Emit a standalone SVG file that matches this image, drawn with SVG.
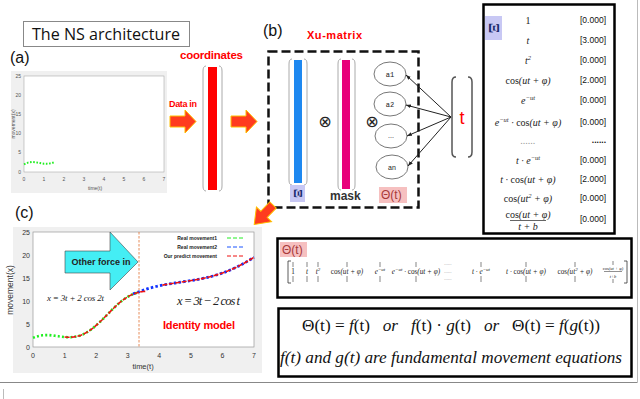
<svg xmlns="http://www.w3.org/2000/svg" width="640" height="399" viewBox="0 0 640 399">
<defs>
<style>
.lbl{font-family:"Liberation Sans",Arial,sans-serif;font-size:16px;fill:#111}
.red{font-family:"Liberation Sans",Arial,sans-serif;font-weight:bold;fill:#ff0000}
.tk{font-family:"Liberation Sans",Arial,sans-serif;font-size:5px;fill:#555}
.tkc{font-family:"Liberation Sans",Arial,sans-serif;font-size:7px;fill:#333}
.m{font-family:"Liberation Serif","Times New Roman",serif;font-style:italic;fill:#222}
.up{font-style:normal}
.n{font-family:"Liberation Sans",Arial,sans-serif;font-size:8.5px;fill:#111}
.brk{fill:none;stroke:#aaa;stroke-width:1}
.vb{stroke:#333;stroke-width:0.6}
.ell{fill:#fff;stroke:#777;stroke-width:1}
.box{fill:#fff;stroke:#000;stroke-width:2.5}
.big{fill:#ff3b1f;stroke:#ffc000;stroke-width:1}
.xi{font-family:"Liberation Serif","Times New Roman",serif;font-weight:bold;fill:#1a2a6c}
</style>
<marker id="ah" viewBox="0 0 10 10" refX="10" refY="5" markerWidth="5" markerHeight="5" orient="auto"><path d="M0,1 L10,5 L0,9 z" fill="#222"/></marker>
</defs>

<!-- outer frame remnants -->
<line x1="0" y1="382.5" x2="637.5" y2="382.5" stroke="#888" stroke-width="1"/>
<line x1="637.5" y1="0" x2="637.5" y2="382.5" stroke="#bbb" stroke-width="1"/>
<line x1="3.5" y1="389" x2="3.5" y2="399" stroke="#bbb" stroke-width="1"/>

<g id="title">
<rect x="23.5" y="21.5" width="166" height="25" fill="#fff" stroke="#888" stroke-width="1"/>
<text x="32" y="40" font-family="'Open Sans','Liberation Sans',sans-serif" font-size="16" fill="#111" textLength="148" lengthAdjust="spacingAndGlyphs">The NS architecture</text>
</g>

<g id="panel-a">
<text class="lbl" x="10" y="63">(a)</text>
<rect x="11" y="71" width="156" height="122" fill="#f0f0f0"/>
<rect x="24" y="76" width="140" height="96" fill="#fff" stroke="#aaa" stroke-width="0.6"/>
<g class="tk" text-anchor="end">
<text x="21" y="78">25</text><text x="21" y="97">20</text><text x="21" y="116">15</text><text x="21" y="135">10</text><text x="21" y="154">5</text><text x="21" y="174">0</text>
</g>
<g class="tk" text-anchor="middle">
<text x="24" y="181">0</text><text x="44" y="181">1</text><text x="64" y="181">2</text><text x="84" y="181">3</text><text x="104" y="181">4</text><text x="124" y="181">5</text><text x="144" y="181">6</text><text x="164" y="181">7</text>
<text x="95" y="190">time(t)</text>
<text transform="translate(15,124) rotate(-90)">movement(x)</text>
</g>
<polyline points="24,164.3 28,162.6 32,162 36,162.3 40,163 44,163.7 48,163.8 52,163.1 54,162.3" fill="none" stroke="#22ee22" stroke-width="2" stroke-dasharray="1.6 1.6"/>
</g>

<g id="coordinates">
<text class="red" x="180" y="59" font-size="11.5" textLength="63">coordinates</text>
<path class="brk" d="M206,66 Q203,66 203,71 L203,186 Q203,191 206,191 M219,66 Q222,66 222,71 L222,186 Q222,191 219,191"/>
<rect x="208" y="67" width="9" height="123" fill="#ff0000"/>
</g>

<g id="xu-matrix">
<text class="lbl" x="263" y="36">(b)</text>
<text class="red" x="307" y="39" font-size="11" textLength="55">Xu-matrix</text>
<rect x="268.5" y="51.5" width="150" height="156" fill="none" stroke="#111" stroke-width="2.5" stroke-dasharray="9 4"/>
<path class="brk" d="M292,59 Q289,59 289,64 L289,180 Q289,185 292,185 M304,59 Q307,59 307,64 L307,180 Q307,185 304,185"/>
<rect x="294" y="60" width="8" height="123" fill="#1e88f0"/>
<path class="brk" d="M341,59 Q338,59 338,64 L338,185 Q338,190 341,190 M352,59 Q355,59 355,64 L355,185 Q355,190 352,190"/>
<rect x="342" y="60" width="8" height="129" fill="#e8007a"/>
<text x="325" y="127" font-family="'DejaVu Sans',sans-serif" font-size="16" text-anchor="middle" fill="#222">⊗</text>
<text x="372" y="127" font-family="'DejaVu Sans',sans-serif" font-size="16" text-anchor="middle" fill="#222">⊗</text>
<ellipse class="ell" cx="390" cy="74" rx="16" ry="12"/>
<ellipse class="ell" cx="390" cy="104" rx="16" ry="12"/>
<ellipse class="ell" cx="391" cy="136" rx="16" ry="12"/>
<ellipse class="ell" cx="392" cy="167" rx="16" ry="12"/>
<g font-size="7" text-anchor="middle" fill="#222">
<text x="390" y="76.5" font-family="'Liberation Mono',monospace">a1</text>
<text x="390" y="106.5" font-family="'Liberation Mono',monospace">a2</text>
<text x="391" y="138" font-family="'Liberation Sans',sans-serif">...</text>
<text x="392" y="169.5" font-family="'Liberation Sans',sans-serif">an</text>
</g>
<rect x="290" y="185" width="15" height="17" fill="#c8c8f4"/>
<text class="xi" transform="translate(293.5,193.5) rotate(90)" font-size="13" text-anchor="middle">Ξ</text>
<text x="330" y="200" font-family="'Liberation Sans',sans-serif" font-size="12" font-weight="bold" fill="#333">mask</text>
<rect x="379" y="187" width="28" height="16" fill="#f6c0c0"/>
<text x="381" y="199" font-family="'Liberation Sans',sans-serif" font-size="12" fill="#a83a3a">Θ(t)</text>
</g>

<g id="t-input">
<path fill="none" stroke="#555" stroke-width="1.5" d="M456,77 Q452,77 452,82 L452,152 Q452,157 456,157 M468,77 Q472,77 472,82 L472,152 Q472,157 468,157"/>
<text x="462" y="124" font-family="'Liberation Sans',sans-serif" font-size="18" fill="#ff0000" text-anchor="middle">t</text>
</g>

<g id="xi-table">
<rect class="box" x="483.5" y="4.5" width="131" height="229"/>
<rect x="485" y="16" width="17" height="24" fill="#c8c8f4"/>
<text class="xi" transform="translate(489,28) rotate(90)" font-size="15" text-anchor="middle">Ξ</text>
<g class="m" font-size="10" text-anchor="middle">
<text x="528" y="23.5" class="m up">1</text>
<text x="528" y="43.5">t</text>
<text x="528" y="63.5">t<tspan font-size="6.5" dy="-4">2</tspan></text>
<text x="528" y="83.5"><tspan class="up">cos</tspan>(ut + φ)</text>
<text x="528" y="103.5">e<tspan font-size="6.5" dy="-4">−ut</tspan></text>
<text x="528" y="125.5">e<tspan font-size="6.5" dy="-4">−ut</tspan><tspan dy="4"> · </tspan><tspan class="up">cos</tspan>(ut + φ)</text>
<text x="528" y="144" fill="#999">......</text>
<text x="528" y="163.5">t · e<tspan font-size="6.5" dy="-4">−ut</tspan></text>
<text x="528" y="182.5">t · <tspan class="up">cos</tspan>(ut + φ)</text>
<text x="528" y="201.5"><tspan class="up">cos</tspan>(ut<tspan font-size="6.5" dy="-4">2</tspan><tspan dy="4"> + φ)</tspan></text>
<text x="528" y="217.5"><tspan class="up">cos</tspan>(ut + φ)</text>
<text x="528" y="230">t + b</text>
</g>
<line x1="510" y1="220.5" x2="546" y2="220.5" stroke="#222" stroke-width="0.7"/>
<g class="n" text-anchor="end">
<text x="606" y="23">[0.000]</text>
<text x="606" y="43">[3.000]</text>
<text x="606" y="63">[0.000]</text>
<text x="606" y="83">[2.000]</text>
<text x="606" y="103">[0.000]</text>
<text x="606" y="125">[0.000]</text>
<text x="606" y="143" font-weight="bold">......</text>
<text x="606" y="163">[0.000]</text>
<text x="606" y="182">[2.000]</text>
<text x="606" y="201">[0.000]</text>
<text x="606" y="222">[0.000]</text>
</g>
</g>

<g id="theta-box">
<rect class="box" x="277.5" y="238.5" width="354" height="59"/>
<rect x="280" y="242" width="27" height="15" fill="#f6c0c0"/>
<text x="282" y="254" font-family="'Liberation Sans',sans-serif" font-size="12" fill="#a83a3a">Θ(t)</text>
<path fill="none" stroke="#333" stroke-width="0.8" d="M291,261 L288,261 L288,283 L291,283 M624,261 L627,261 L627,283 L624,283"/>
<g class="vb">
<line x1="293" y1="262" x2="293" y2="267"/><line x1="293" y1="276" x2="293" y2="282"/>
<line x1="307" y1="262" x2="307" y2="267"/><line x1="307" y1="276" x2="307" y2="282"/>
<line x1="318" y1="262" x2="318" y2="267"/><line x1="318" y1="276" x2="318" y2="282"/>
<line x1="347" y1="262" x2="347" y2="267"/><line x1="347" y1="276" x2="347" y2="282"/>
<line x1="380" y1="262" x2="380" y2="267"/><line x1="380" y1="276" x2="380" y2="282"/>
<line x1="416" y1="262" x2="416" y2="267"/><line x1="416" y1="276" x2="416" y2="282"/>
<line x1="481" y1="262" x2="481" y2="267"/><line x1="481" y1="276" x2="481" y2="282"/>
<line x1="526" y1="262" x2="526" y2="267"/><line x1="526" y1="276" x2="526" y2="282"/>
<line x1="575" y1="262" x2="575" y2="267"/><line x1="575" y1="276" x2="575" y2="282"/>
<line x1="613" y1="261" x2="613" y2="265"/><line x1="613" y1="279" x2="613" y2="283"/>
</g>
<g class="m" font-size="7.2" text-anchor="middle">
<text x="293" y="273.5" class="m up">1</text>
<text x="307" y="273.5">t</text>
<text x="318" y="273.5">t<tspan font-size="5" dy="-3">2</tspan></text>
<text x="347" y="273.5"><tspan class="up">cos</tspan>(ut + φ)</text>
<text x="380" y="273.5">e<tspan font-size="5" dy="-3">−ut</tspan></text>
<text x="416" y="273.5">e<tspan font-size="5" dy="-3">−ut</tspan><tspan dy="3"> · </tspan><tspan class="up">cos</tspan>(ut + φ)</text>
<text x="448" y="265" font-size="5" fill="#888">......</text>
<text x="448" y="272.5" font-size="5" fill="#888">......</text>
<text x="448" y="280" font-size="5" fill="#888">......</text>
<text x="481" y="273.5">t · e<tspan font-size="5" dy="-3">−ut</tspan></text>
<text x="526" y="273.5">t · <tspan class="up">cos</tspan>(ut + φ)</text>
<text x="575" y="273.5"><tspan class="up">cos</tspan>(ut<tspan font-size="5" dy="-3">2</tspan><tspan dy="3"> + φ)</tspan></text>
<text x="613" y="270" font-size="4.5"><tspan class="up">cos</tspan>(ut + φ)</text>
<text x="613" y="277.5" font-size="4.5">t+b</text>
</g>
<line x1="604" y1="271.5" x2="622" y2="271.5" stroke="#222" stroke-width="0.5"/>
</g>

<g id="equation-box">
<rect class="box" x="278.5" y="308.5" width="353" height="68"/>
<text xml:space="preserve" x="302" y="331" font-family="'Liberation Serif','Times New Roman',serif" font-size="16" fill="#111" textLength="298" lengthAdjust="spacingAndGlyphs">Θ(t) = <tspan font-style="italic">f</tspan>(t)   <tspan font-style="italic">or</tspan>   <tspan font-style="italic">f</tspan>(t) · <tspan font-style="italic">g</tspan>(t)   <tspan font-style="italic">or</tspan>   Θ(t) = <tspan font-style="italic">f</tspan>(<tspan font-style="italic">g</tspan>(t))</text>
<text x="280" y="363" font-family="'Liberation Serif','Times New Roman',serif" font-style="italic" font-size="16" fill="#111" textLength="342" lengthAdjust="spacingAndGlyphs">f(t) and g(t) are fundamental movement equations</text>
</g>

<g id="panel-c">
<text class="lbl" x="15" y="218">(c)</text>
<rect x="13" y="227" width="249" height="146" fill="#f0f0f0"/>
<rect x="33" y="232" width="221" height="115" fill="#fff" stroke="#999" stroke-width="0.7"/>
<g class="tkc" text-anchor="end">
<text x="30" y="234.5">25</text><text x="30" y="257.5">20</text><text x="30" y="280.5">15</text><text x="30" y="303.5">10</text><text x="30" y="326.5">5</text><text x="30" y="349.5">0</text>
</g>
<g class="tkc" text-anchor="middle">
<text x="33" y="358">0</text><text x="64.6" y="358">1</text><text x="96.1" y="358">2</text><text x="127.7" y="358">3</text><text x="159.3" y="358">4</text><text x="190.9" y="358">5</text><text x="222.4" y="358">6</text><text x="254" y="358">7</text>
<text x="143" y="369" font-size="7.5">time(t)</text>
<text transform="translate(13,290) rotate(-90)" font-size="8.5">movement(x)</text>
</g>
<line x1="139" y1="232" x2="139" y2="347" stroke="#e07030" stroke-width="0.8" stroke-dasharray="2.5 1.5"/>
<polygon points="65,251 110,251 110,232 138,262 110,290 110,273 65,273" fill="#44eef4" stroke="#444" stroke-width="0.6"/>
<text x="101" y="265" font-family="'Liberation Sans',sans-serif" font-size="9" font-weight="bold" fill="#222" text-anchor="middle">Other force in</text>
<g font-family="'Liberation Sans',sans-serif" font-size="5" font-weight="bold" fill="#222" text-anchor="end">
<text x="217" y="240">Real movement1</text>
<text x="217" y="249">Real movement2</text>
<text x="217" y="258">Our predict movement</text>
</g>
<line x1="227" y1="238" x2="243" y2="238" stroke="#22ee22" stroke-width="1" stroke-dasharray="4 2"/>
<line x1="227" y1="247" x2="243" y2="247" stroke="#1a55ff" stroke-width="1" stroke-dasharray="4 2"/>
<line x1="227" y1="256" x2="243" y2="256" stroke="#ee1111" stroke-width="1" stroke-dasharray="4 2"/>
<polyline points="33,337.8 36.2,336.6 39.3,335.8 42.5,335.3 45.6,335.1 48.8,335.1 51.9,335.4 55.1,335.8 58.3,336.2 61.4,336.7 64.6,337 67.7,337.2 70.9,337.2 74,336.9 77.2,336.3 80.4,335.4 83.5,334.1 86.7,332.4 89.8,330.4 93,328.1 96.1,325.4 99.3,322.5 102.5,319.5 105.6,316.3 108.8,313.1 111.9,309.9 115.1,306.8 118.2,303.9 121.4,301.2 124.6,298.8 127.7,296.8 130.9,295.1 134,293.7 137.2,292.7" fill="none" stroke="#22ee22" stroke-width="2.6" stroke-dasharray="2 2.2"/>
<polyline points="133,293.8 137.2,292.4 143.5,290.1 149.8,288.1 156.1,286.5 162.4,285.1 168.8,284 175.1,283 181.4,282 187.7,281.1 194,280.1 200.3,279 206.6,277.6 212.9,276 219.3,274.1 225.6,271.9 231.9,269.3 238.2,266.3 244.5,263 250.8,259.3 254,257.3" fill="none" stroke="#1133ff" stroke-width="2.8" stroke-dasharray="2.5 2.2"/>
<polyline points="64.6,337 67.7,337.2 70.9,337.2 74,336.9 77.2,336.3 80.4,335.4 83.5,334.1 86.7,332.4 89.8,330.4 93,328.1 96.1,325.4 99.3,322.5 102.5,319.5 105.6,316.3 108.8,313.1 111.9,309.9 115.1,306.8 118.2,303.9 121.4,301.2 124.6,298.8 127.7,296.8 130.9,295.1 134,293.7 137.2,292.7 140.3,291.9 143.5,291.5 146.6,291.3" fill="none" stroke="#ee1111" stroke-width="1.6" stroke-dasharray="5 1.5"/>
<polyline points="162.4,285.1 168.8,284 175.1,283 181.4,282 187.7,281.1 194,280.1 200.3,279 206.6,277.6 212.9,276 219.3,274.1 225.6,271.9 231.9,269.3 238.2,266.3 244.5,263 250.8,259.3 254,257.3" fill="none" stroke="#ee1111" stroke-width="1.6" stroke-dasharray="5 1.5"/>
<text x="47" y="301" font-family="'Liberation Serif','Times New Roman',serif" font-style="italic" font-size="9" fill="#222" textLength="57">x = 3t + 2 cos 2t</text>
<text x="177" y="305" font-family="'Liberation Serif','Times New Roman',serif" font-style="italic" font-size="12.5" fill="#222" textLength="63">x = 3t − 2 cos t</text>
<text x="163" y="329" font-family="'Liberation Sans',sans-serif" font-size="11" font-weight="bold" fill="#ff0000" textLength="72">Identity model</text>
</g>

<g id="connectors">
<text class="red" x="169" y="107" font-size="9" textLength="28">Data in</text>
<path class="big" transform="translate(170,121.5)" d="M0,-5.5 L15,-5.5 L15,-11.5 L26,0 L15,11.5 L15,5.5 L0,5.5 z"/>
<path class="big" transform="translate(231,121.5)" d="M0,-5.5 L15,-5.5 L15,-11.5 L26,0 L15,11.5 L15,5.5 L0,5.5 z"/>
<path class="big" transform="translate(273,205) rotate(134)" d="M0,-4.5 L13,-4.5 L13,-10.5 L27,0 L13,10.5 L13,4.5 L0,4.5 z"/>
<g stroke="#222" stroke-width="1" marker-end="url(#ah)">
<line x1="451" y1="117" x2="406" y2="75"/>
<line x1="451" y1="117" x2="406" y2="105"/>
<line x1="451" y1="117" x2="407" y2="136"/>
<line x1="451" y1="117" x2="408" y2="166"/>
</g>
</g>
</svg>
